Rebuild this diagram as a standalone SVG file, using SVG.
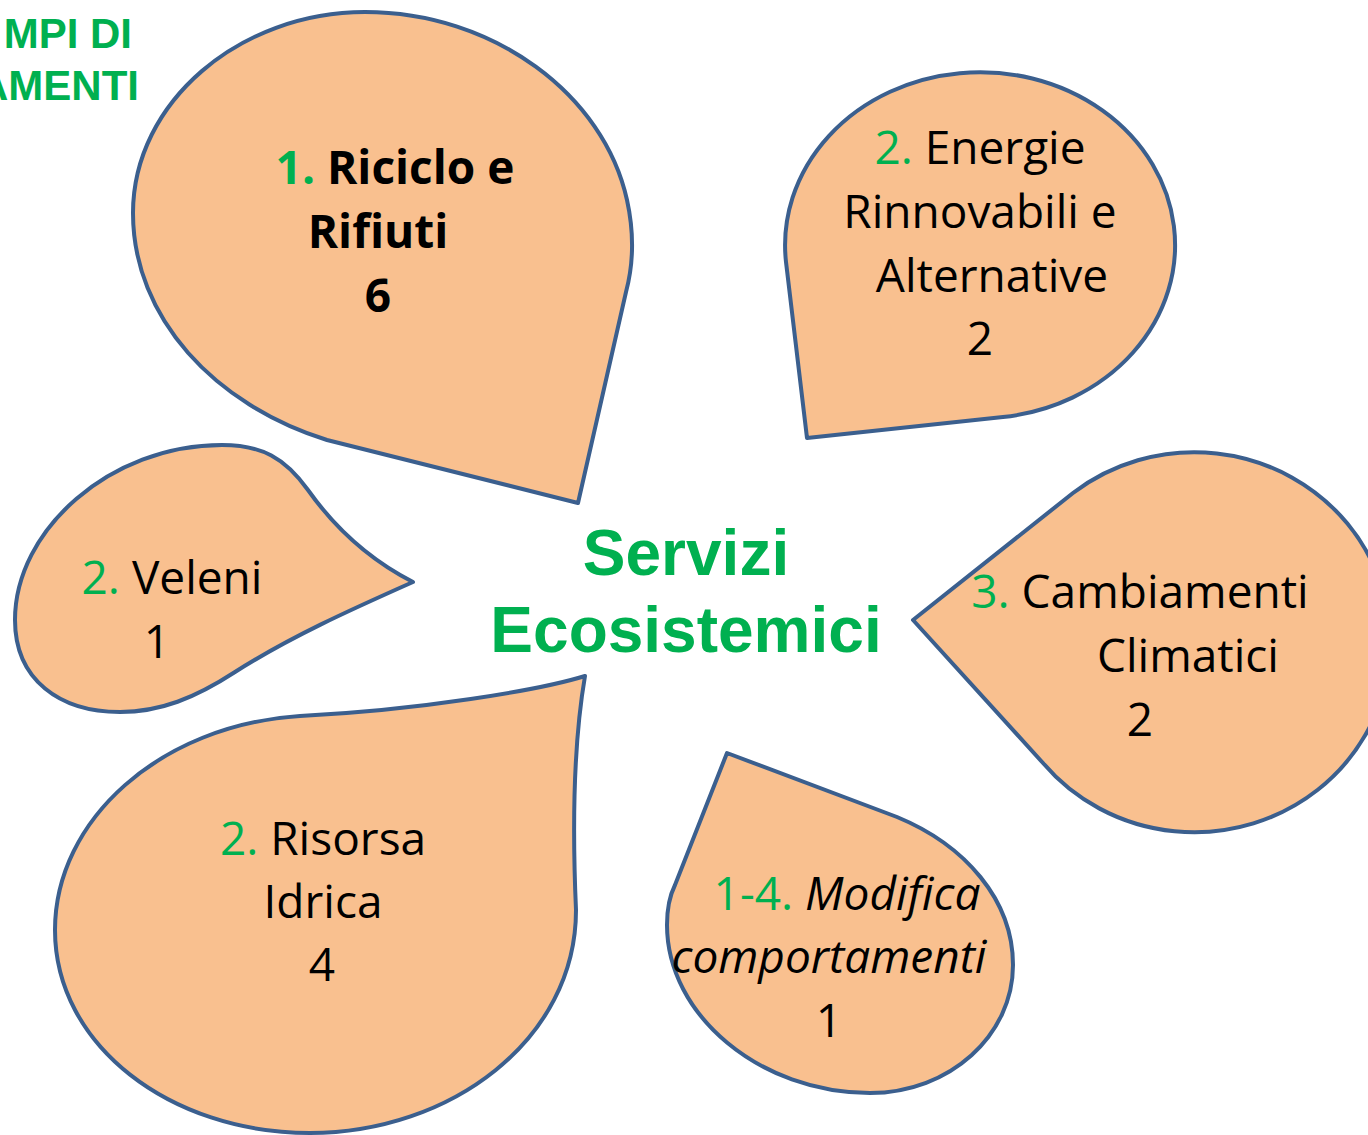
<svg xmlns="http://www.w3.org/2000/svg" width="1368" height="1135" viewBox="0 0 1368 1135">
<style>
.drop{fill:#F9C08F;stroke:#3B5F8E;stroke-width:4;stroke-linejoin:round}
.t{font-family:"Open Sans","Noto Sans",sans-serif;font-size:46px;fill:#000;text-anchor:middle}
.b{font-weight:bold}
.i{font-style:italic}
.g{fill:#00B050}
.hdr{font-family:"Liberation Sans",Arial,sans-serif;font-weight:bold;fill:#00B050}
</style>
<rect width="1368" height="1135" fill="#fff"/>
<g id="title">
<text class="hdr" x="132" y="48" font-size="42" text-anchor="end">MPI DI</text>
<text class="hdr" x="139" y="100" font-size="42" text-anchor="end">AMENTI</text>
</g>
<g id="connectors"></g>
<g id="node-riciclo">
<path class="drop" d="M578,503 L626,292 C634,262 634,232 627,200 C604,95 494,12 365,12 C240,12 133,102 133,213 C133,318 215,405 327,440 Z"/>
<text class="t b" x="395" y="184"><tspan class="g">1.</tspan> Riciclo e</text>
<text class="t b" x="378" y="248">Rifiuti</text>
<text class="t b" x="378" y="312">6</text>
</g>
<g id="node-energie">
<path class="drop" d="M807,438 L1003,417 A195 173 0 1 0 786,262 Z"/>
<text class="t" x="980" y="164"><tspan class="g">2.</tspan> Energie</text>
<text class="t" x="980" y="228">Rinnovabili e</text>
<text class="t" x="992" y="292">Alternative</text>
<text class="t" x="980" y="355">2</text>
</g>
<g id="node-veleni">
<path class="drop" d="M413,582 C370,560 335,528 308,490 C285,458 262,445 222,445 C110,445 15,530 15,620 C15,680 60,712 120,712 C160,712 195,698 235,672 C290,637 350,610 413,582 Z"/>
<text class="t" x="172" y="594"><tspan class="g">2.</tspan> Veleni</text>
<text class="t" x="157" y="658">1</text>
</g>
<g id="node-center">
<text class="hdr" x="686" y="575" font-size="64" text-anchor="middle">Servizi</text>
<text class="hdr" x="686" y="652" font-size="64" text-anchor="middle">Ecosistemici</text>
</g>
<g id="node-clima">
<path class="drop" d="M913,620 L1073,493 A196 190 0 1 1 1043,763 Z"/>
<text class="t" x="1140" y="608"><tspan class="g">3.</tspan> Cambiamenti</text>
<text class="t" x="1188" y="672">Climatici</text>
<text class="t" x="1140" y="736">2</text>
</g>
<g id="node-risorsa">
<path class="drop" d="M585,676 C540,690 420,710 300,716 C160,725 55,820 55,930 C55,1045 170,1133 310,1133 C450,1133 576,1040 576,910 C572,820 574,740 585,676 Z"/>
<text class="t" x="323" y="855"><tspan class="g">2.</tspan> Risorsa</text>
<text class="t" x="323" y="918">Idrica</text>
<text class="t" x="322" y="981">4</text>
</g>
<g id="node-modifica">
<path class="drop" d="M727,753 L897,817 C965,845 1013,900 1013,965 C1013,1035 950,1093 870,1093 C760,1093 667,1015 667,925 C667,910 669,897 675,885 Z"/>
<text class="t" x="847" y="910" font-size="47"><tspan class="g">1-4.</tspan> <tspan class="i">Modifica</tspan></text>
<text class="t i" x="829" y="973" font-size="47.5">comportamenti</text>
<text class="t" x="829" y="1037">1</text>
</g>
</svg>
